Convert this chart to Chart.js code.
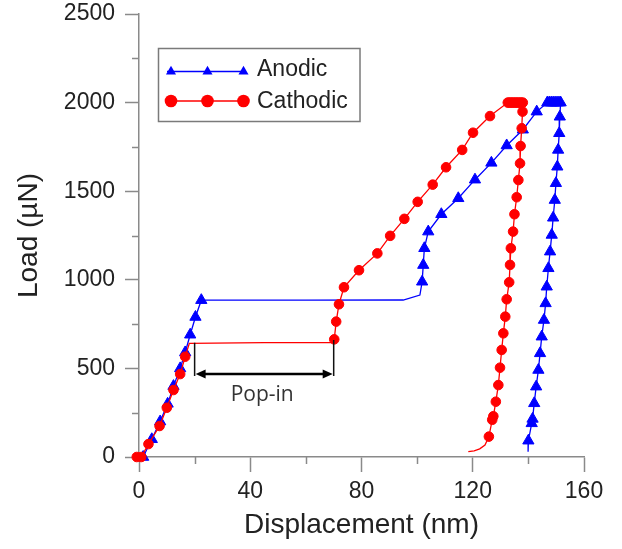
<!DOCTYPE html>
<html><head><meta charset="utf-8">
<script src="https://cdn.jsdelivr.net/npm/chart.js@4/dist/chart.umd.min.js"></script>
<style>html,body{margin:0;padding:0;background:#fff;}#wrap{width:622px;height:549px;position:relative;}canvas{display:block;}</style>
</head><body><div id="wrap"><canvas id="c" width="622" height="549" style="width:622px;height:549px"></canvas></div>
<script>
// ---- data (displacement nm, load µN) ----
const seriesNames = ['Anodic', 'Cathodic'];
const xTicks = [0, 40, 80, 120, 160];
const xMinorTicks = [20, 60, 100, 140];
const yTicks = [0, 500, 1000, 1500, 2000, 2500];
const yMinorTicks = [250, 750, 1250, 1750, 2250];

// Anodic
const anodicLoadX = [1.5, 4.6, 7.6, 10.3, 12.4, 14.8, 16.6, 18.4, 20.3, 22.4];
const anodicLoadY = [0, 100, 200, 300, 400, 500, 590, 690, 790, 885];
const anodicPlateauX = [60, 95, 101];
const anodicPlateauY = [885, 886, 914];
const anodicReloadX = [101.8, 102.2, 102.6, 104, 108.7, 114.8, 120.8, 126.7, 132.2, 138, 143];
const anodicReloadY = [989, 1083, 1178, 1272, 1370, 1460, 1565, 1660, 1758, 1847, 1949];
const anodicHoldX = [146.8, 147.5, 148.2, 148.9, 149.6, 150.3, 151, 151.6];
const anodicHoldY = [2000, 2000, 2000, 2000, 2000, 2000, 2000, 2000];
const anodicUnloadX = [151.3, 151.1, 150.7, 150.4, 149.9, 149.5, 148.9, 148.4, 147.8, 147.2, 146.6, 146.2, 145.6, 144.8, 144.2, 143.6, 142.8, 142.1, 141.5, 141.2, 140];
const anodicUnloadY = [1920, 1827, 1733, 1638, 1545, 1450, 1350, 1253, 1159, 1065, 961, 867, 773, 679, 585, 491, 397, 303, 215, 190, 92];
const anodicTailX = [139.9];
const anodicTailY = [30];

// Cathodic
const cathodicLoadX = [-0.8, 0.8, 3.4, 7.4, 10, 12.4, 14.8, 16.6];
const cathodicLoadY = [0, 0, 73, 175, 278, 378, 468, 566];
const cathodicPopInX = [18.1, 45, 69.7];
const cathodicPopInY = [641, 645, 645];
const cathodicReloadX = [70.2, 70.9, 71.9, 73.7, 79.1, 85.7, 90.3, 95.4, 100.2, 105.6, 110.4, 116.2, 120.1, 126.2];
const cathodicReloadY = [664, 764, 862, 958, 1054, 1149, 1248, 1344, 1440, 1537, 1635, 1733, 1830, 1924];
const cathodicHoldX = [132.6, 133.2, 133.8, 134.4, 135, 135.6, 136.2, 136.8, 137.4, 138];
const cathodicHoldY = [2000, 2000, 2000, 2000, 2000, 2000, 2000, 2000, 2000, 2000];
const cathodicUnloadX = [137.9, 137.6, 137.2, 137, 136.4, 135.8, 135, 134.5, 133.7, 133.4, 133.1, 132.2, 131.7, 131, 130.4, 129.8, 129.2, 128.3, 127.4, 127, 125.8];
const cathodicUnloadY = [1949, 1855, 1755, 1657, 1563, 1466, 1370, 1272, 1178, 1084, 986, 890, 792, 698, 604, 504, 406, 312, 230, 210, 115];
const cathodicTailX = [124.4, 122.5, 120.5, 118.4];
const cathodicTailY = [68, 46, 35, 30];

// Pop-in annotation (data coordinates)
const popInLabel = 'Pop-in';
const popInFromX = 20, popInToX = 70, popInArrowY = 468;
const popInLeftTop = 645, popInRightTop = 660;
const popInLabelX = 44.3, popInLabelY = 350;

// ---- build ----
function build(segments) {
  const pts = [];
  segments.forEach(([xs, ys, marked]) => xs.forEach((x, i) => pts.push({x: x, y: ys[i], m: marked})));
  return pts;
}
const anodicData = build([
  [anodicLoadX, anodicLoadY, true], [anodicPlateauX, anodicPlateauY, false],
  [anodicReloadX, anodicReloadY, true], [anodicHoldX, anodicHoldY, true],
  [anodicUnloadX, anodicUnloadY, true], [anodicTailX, anodicTailY, false]]);
const cathodicData = build([
  [cathodicLoadX, cathodicLoadY, true], [cathodicPopInX, cathodicPopInY, false],
  [cathodicReloadX, cathodicReloadY, true], [cathodicHoldX, cathodicHoldY, true],
  [cathodicUnloadX, cathodicUnloadY, true], [cathodicTailX, cathodicTailY, false]]);

const BLUE = '#0000ff', RED = '#ff0000', AXIS = '#8a8a8a', TXT = '#222222';
const FONT = "'Liberation Sans', Arial, sans-serif";

const extras = {
  id: 'extras',
  afterDraw(chart) {
    const ctx = chart.ctx, xs = chart.scales.x, ys = chart.scales.y;
    const ca = chart.chartArea;
    ctx.save();
    // minor ticks
    ctx.strokeStyle = AXIS; ctx.lineWidth = 1.5;
    yMinorTicks.forEach(v => { const p = Math.round(ys.getPixelForValue(v)) + 0.5;
      ctx.beginPath(); ctx.moveTo(ca.left - 7, p); ctx.lineTo(ca.left, p); ctx.stroke(); });
    xMinorTicks.forEach(v => { const p = Math.round(xs.getPixelForValue(v)) + 0.5;
      ctx.beginPath(); ctx.moveTo(p, ca.bottom); ctx.lineTo(p, ca.bottom + 7); ctx.stroke(); });
    // pop-in annotation
    const x1 = xs.getPixelForValue(popInFromX), x2 = xs.getPixelForValue(popInToX);
    const ay = ys.getPixelForValue(popInArrowY);
    ctx.strokeStyle = '#111'; ctx.lineWidth = 1.5;
    ctx.beginPath();
    ctx.moveTo(x1, ys.getPixelForValue(popInLeftTop)); ctx.lineTo(x1, ay + 2);
    ctx.moveTo(x2, ys.getPixelForValue(popInRightTop)); ctx.lineTo(x2, ay + 2);
    ctx.stroke();
    ctx.lineWidth = 2.5; ctx.fillStyle = '#000'; ctx.strokeStyle = '#000';
    ctx.beginPath(); ctx.moveTo(x1 + 8, ay); ctx.lineTo(x2 - 8, ay); ctx.stroke();
    ctx.beginPath(); ctx.moveTo(x1 + 1, ay); ctx.lineTo(x1 + 11, ay - 4.5); ctx.lineTo(x1 + 11, ay + 4.5); ctx.closePath(); ctx.fill();
    ctx.beginPath(); ctx.moveTo(x2 - 1, ay); ctx.lineTo(x2 - 11, ay - 4.5); ctx.lineTo(x2 - 11, ay + 4.5); ctx.closePath(); ctx.fill();
    ctx.fillStyle = '#333'; ctx.font = "21px 'Open Sans', sans-serif";
    ctx.textAlign = 'center'; ctx.textBaseline = 'middle';
    ctx.fillText(popInLabel, xs.getPixelForValue(popInLabelX), ys.getPixelForValue(popInLabelY));
    // legend
    ctx.strokeStyle = '#7a7a7a'; ctx.lineWidth = 1.5;
    ctx.strokeRect(158.5, 48.5, 201.5, 73);
    const rows = [[71.5, BLUE, 'tri'], [101, RED, 'circ']];
    rows.forEach(([y, col, shape], i) => {
      ctx.strokeStyle = col; ctx.lineWidth = 1.5;
      ctx.beginPath(); ctx.moveTo(167, y); ctx.lineTo(245, y); ctx.stroke();
      ctx.fillStyle = col;
      [171, 207.5, 243.5].forEach(mx => {
        ctx.beginPath();
        if (shape === 'tri') { const r = 5.8;
          ctx.moveTo(mx, y - r); ctx.lineTo(mx + r * 0.866, y + r * 0.5); ctx.lineTo(mx - r * 0.866, y + r * 0.5); ctx.closePath();
        } else { ctx.arc(mx, y, 6.3, 0, Math.PI * 2); }
        ctx.fill();
      });
      ctx.fillStyle = TXT; ctx.font = '23px ' + FONT; ctx.textAlign = 'left'; ctx.textBaseline = 'middle';
      ctx.fillText(seriesNames[i], 257, i === 0 ? 69.5 : 101.5);
    });
    ctx.restore();
  }
};

const markerRadius = r => ctx => (ctx.raw && ctx.raw.m ? r : 0);

new Chart(document.getElementById('c'), {
  type: 'scatter',
  data: { datasets: [
    { label: seriesNames[0], data: anodicData, showLine: true, borderColor: BLUE, backgroundColor: BLUE,
      borderWidth: 1.3, pointStyle: 'triangle', pointRadius: markerRadius(6.5), pointBorderWidth: 1,
      pointBorderColor: BLUE, pointBackgroundColor: BLUE, pointHoverRadius: markerRadius(6.5), clip: false, order: 2 },
    { label: seriesNames[1], data: cathodicData, showLine: true, borderColor: RED, backgroundColor: RED,
      borderWidth: 1.3, pointStyle: 'circle', pointRadius: markerRadius(4.8), pointBorderWidth: 1,
      pointBorderColor: RED, pointBackgroundColor: RED, pointHoverRadius: markerRadius(4.8), clip: false, order: 1 }
  ]},
  options: {
    responsive: false, maintainAspectRatio: false, animation: false, devicePixelRatio: 1,
    layout: { padding: { top: 14, right: 38, bottom: 0, left: 0 } },
    plugins: { legend: { display: false }, tooltip: { enabled: false } },
    scales: {
      x: { type: 'linear', min: 0, max: 160,
        afterBuildTicks: s => { s.ticks = xTicks.map(v => ({ value: v })); },
        afterFit: s => { s.height = 92; s.paddingLeft = 0; s.paddingRight = 0; },
        grid: { drawOnChartArea: false, drawTicks: true, tickLength: 15, tickColor: AXIS, tickWidth: 1.5 },
        border: { display: true, color: AXIS, width: 1.5 },
        ticks: { color: TXT, font: { family: FONT, size: 23 }, padding: 6, maxRotation: 0, callback: v => String(v) },
        title: { display: true, text: 'Displacement (nm)', color: TXT, font: { family: FONT, size: 28 }, padding: { top: 0, bottom: 7 } } },
      y: { type: 'linear', min: 0, max: 2500,
        afterBuildTicks: s => { s.ticks = yTicks.map(v => ({ value: v })); },
        afterFit: s => { s.width = 139; s.paddingTop = 0; s.paddingBottom = 0; },
        grid: { drawOnChartArea: false, drawTicks: true, tickLength: 14, tickColor: AXIS, tickWidth: 1.5 },
        border: { display: true, color: AXIS, width: 1.5 },
        ticks: { color: TXT, font: { family: FONT, size: 23 }, padding: 10, callback: v => String(v) },
        title: { display: true, text: 'Load (µN)', color: TXT, font: { family: FONT, size: 28 }, padding: { top: 12, bottom: 0 } } }
    }
  },
  plugins: [extras]
});
</script></body></html>
